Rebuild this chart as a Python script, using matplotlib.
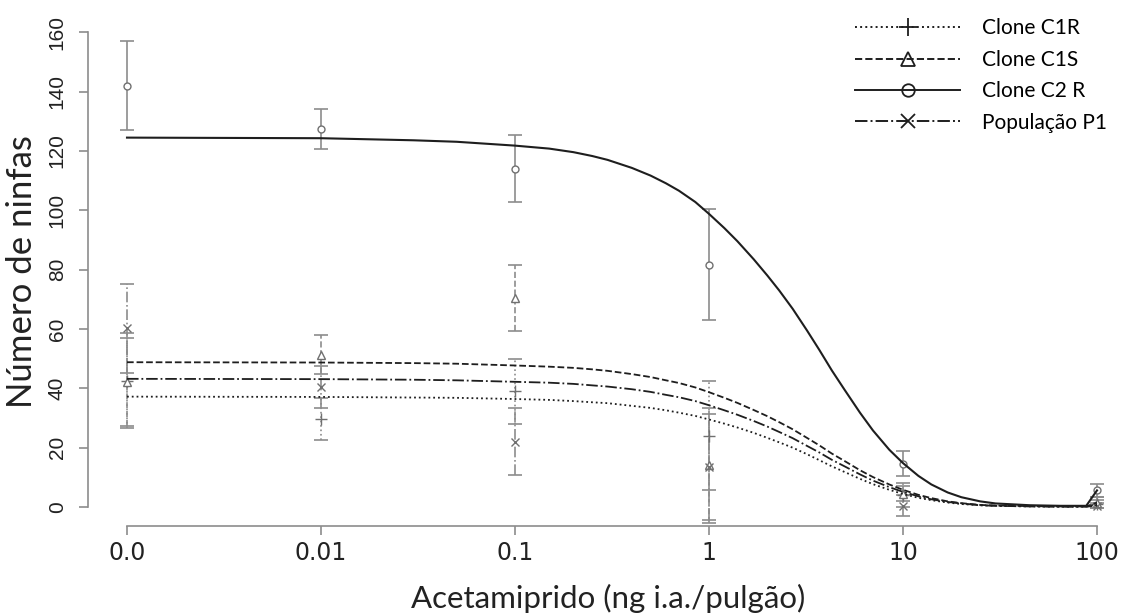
import matplotlib
matplotlib.use("Agg")
import matplotlib.pyplot as plt
from matplotlib.lines import Line2D

# Doses (0.0 is drawn at 0.001 on the log axis)
doses = [0.001, 0.01, 0.1, 1, 10, 100]
dose_labels = ["0.0", "0.01", "0.1", "1", "10", "100"]

# Observed means and error bars
c1r_mean = [42.5, 29.7, 39.0, 24.0, 4.0, 1.0]
c1r_err = [16.0, 7.0, 11.0, 18.4, 4.0, 1.5]
c1s_mean = [42.0, 51.4, 70.5, 14.0, 4.5, 1.5]
c1s_err = [14.8, 6.5, 11.2, 19.5, 2.5, 2.0]
c2r_mean = [142.0, 127.5, 114.0, 81.7, 14.6, 5.6]
c2r_err = [15.0, 6.8, 11.3, 18.6, 4.2, 2.3]
p1_mean = [60.2, 40.5, 22.0, 13.5, 0.5, 0.5]
p1_err = [15.0, 7.0, 11.3, 18.0, 3.5, 1.0]

# Fitted curves
curve_x = [0.001, 0.01, 0.03, 0.05, 0.1, 0.15, 0.2, 0.25, 0.3, 0.4,
           0.5, 0.6, 0.7, 0.85, 1.0, 1.2, 1.4, 1.7, 2.0, 2.3,
           2.7, 3.2, 3.7, 4.3, 5.0, 6.0, 7.0, 8.5, 10, 12,
           14, 17, 20, 25, 30, 45, 65, 88, 100]
c2r_fit = [124.5, 124.3, 123.6, 123.1, 121.8, 120.8, 119.6, 118.3, 117.0, 114.3,
           111.7, 109.1, 106.6, 102.8, 98.8, 94.0, 89.6, 83.5, 78.0, 73.0,
           66.8, 59.5, 53.0, 46.0, 39.5, 31.8, 25.8, 19.3, 14.8, 10.5,
           7.6, 4.9, 3.3, 1.9, 1.2, 0.6, 0.4, 0.4, 5.6]
c1s_fit = [48.8, 48.7, 48.5, 48.3, 47.7, 47.3, 46.9, 46.4, 45.9, 44.8,
           43.8, 42.7, 41.8, 40.3, 38.7, 36.8, 35.1, 32.7, 30.6, 28.6,
           26.2, 23.3, 20.8, 18.0, 15.5, 12.4, 10.1, 7.6, 5.8, 4.1,
           3.0, 1.9, 1.3, 0.7, 0.5, 0.3, 0.2, 0.2, 1.5]
p1_fit = [43.2, 43.1, 42.9, 42.7, 42.2, 41.9, 41.5, 41.0, 40.6, 39.7,
          38.8, 37.8, 37.0, 35.7, 34.3, 32.6, 31.1, 29.0, 27.1, 25.3,
          23.2, 20.6, 18.4, 15.9, 13.7, 11.0, 8.9, 6.7, 5.1, 3.6,
          2.6, 1.7, 1.2, 0.6, 0.4, 0.2, 0.1, 0.1, 0.5]
c1r_fit = [37.2, 37.1, 36.9, 36.8, 36.4, 36.1, 35.7, 35.3, 35.0, 34.1,
           33.4, 32.6, 31.8, 30.7, 29.5, 28.1, 26.8, 25.0, 23.3, 21.8,
           20.0, 17.8, 15.8, 13.7, 11.8, 9.5, 7.7, 5.8, 4.4, 3.1,
           2.3, 1.5, 1.0, 0.6, 0.4, 0.2, 0.1, 0.1, 1.0]

series = [
    ("Clone C1R", c1r_mean, c1r_err, c1r_fit, ":", "+", 9),
    ("Clone C1S", c1s_mean, c1s_err, c1s_fit, "--", "^", 6),
    ("Clone C2 R", c2r_mean, c2r_err, c2r_fit, "-", "o", 5),
    ("População P1", p1_mean, p1_err, p1_fit, "-.", "x", 6),
]

fig = plt.figure(figsize=(11.25, 6.15), dpi=100)
ax = fig.add_axes([88.2 / 1125, 89 / 615, 1047.6 / 1125, 512.7 / 615])

curve_col = "#1e1e1e"
bar_col = "#8c8c8c"

for name, mean, err, fit, ls, mk, ms in series:
    eb = ax.errorbar(doses, mean, yerr=err, fmt="none", ecolor=bar_col,
                     elinewidth=1.2, capsize=5, capthick=1.2, zorder=2)
    eb[2][0].set_linestyle(ls)
    ax.plot(doses, mean, linestyle="none", marker=mk, markersize=ms,
            markerfacecolor="white" if mk in "o^" else "none",
            markeredgecolor="#707070", markeredgewidth=1.0, zorder=3)
    ax.plot(curve_x, fit, linestyle=ls, color=curve_col,
            linewidth=1.5 if ls == "-" else 1.3, zorder=4)

ax.set_xscale("log")
ax.set_xlim(10 ** -3.2, 10 ** 2.2)
ax.set_ylim(-6.4, 166.4)
ax.minorticks_off()
ax.set_xticks(doses)
ax.set_xticklabels(dose_labels)
ax.set_yticks(range(0, 161, 20))

for side in ["top", "right"]:
    ax.spines[side].set_visible(False)
ax.spines["left"].set_bounds(0, 160)
ax.spines["bottom"].set_bounds(0.001, 100)
for side in ["left", "bottom"]:
    ax.spines[side].set_color("#8c8c8c")
    ax.spines[side].set_linewidth(1.2)

ax.tick_params(axis="both", colors="#8c8c8c", labelcolor="#222222",
               width=1.2, length=6.5)
ax.tick_params(axis="y", labelrotation=90, pad=9, labelsize=15,
               labelfontfamily="Liberation Sans")
ax.tick_params(axis="x", pad=4, labelsize=17,
               labelfontfamily="Liberation Sans Narrow")
for lab in ax.get_yticklabels():
    lab.set_verticalalignment("center")

fig.text(608 / 1125, 1 - 598 / 615, "Acetamiprido (ng i.a./pulgão)",
         family=["Lato", "DejaVu Sans"], fontsize=22.5, color="#222222",
         ha="center", va="center")
fig.text(22 / 1125, 1 - 272 / 615, "Número de ninfas",
         family=["Lato", "DejaVu Sans"], fontsize=25, color="#222222",
         ha="center", va="center", rotation=90)

handles = [Line2D([0], [0], linestyle=ls, color="#1e1e1e", linewidth=1.4,
                  marker=mk, markersize=ms + 4, markerfacecolor="none",
                  markeredgecolor="#1e1e1e", markeredgewidth=1.3)
           for name, mean, err, fit, ls, mk, ms in series]
labels = [s[0] for s in series]
fig.legend(handles, labels, loc="upper left",
           bbox_to_anchor=(845 / 1125, 1 - 8 / 615), frameon=False,
           prop={"family": ["Lato", "DejaVu Sans"], "size": 15},
           handlelength=5.0, handletextpad=1.1, labelspacing=0.55,
           borderpad=0, numpoints=1)

fig.savefig("out.png", dpi=100)
